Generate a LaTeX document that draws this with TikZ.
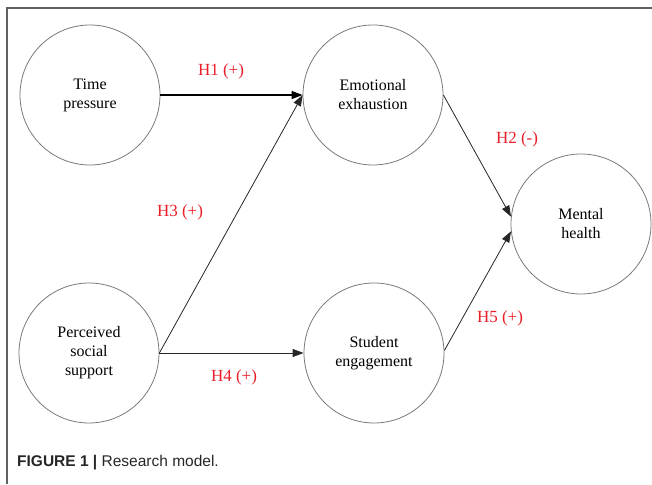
\documentclass[tikz,border=0pt]{standalone}
\usepackage{fontspec}
\setmainfont{Liberation Serif}
\newfontfamily\nodefont{Liberation Serif}
\newfontfamily\capfont{Liberation Sans}
\usetikzlibrary{arrows.meta}
\definecolor{hred}{RGB}{232,30,40}
\definecolor{cgray}{RGB}{120,120,120}
\tikzset{
  construct/.style={circle,draw=cgray,line width=0.8pt,minimum size=140pt,inner sep=0pt,align=center,font=\nodefont\fontsize{16}{19}\selectfont},
  path/.style={draw=black!85,line width=0.8pt,-{Triangle[length=11pt,width=8pt]}},
  hyp/.style={text=hred,font=\nodefont\fontsize{17}{20}\selectfont,inner sep=0pt}
}
\begin{document}
\begin{tikzpicture}[x=1pt,y=1pt]
\useasboundingbox (0,0) rectangle (652,484);
\draw[cgray!80!black,line width=1.3pt] (7,0) -- (7,476) -- (652,476);
\node[construct] (tp) at (90,389) {Time\\pressure};
\node[construct] (ee) at (373,389) {Emotional\\exhaustion};
\node[construct] (mh) at (581,260) {Mental\\health};
\node[construct] (pss) at (89,131) {Perceived\\social\\support};
\node[construct] (se) at (374,131) {Student\\engagement};
\draw[path,line width=1.2pt,draw=black] (tp.east) -- (ee.west);
\draw[path] (pss.east) -- (ee.west);
\draw[path] (pss.east) -- (se.west);
\draw[path] (ee.east) -- (mh.174);
\draw[path] (se.2) -- (mh.186);
\node[hyp] (h1) at (221,413) {H1 (+)};
\node[hyp] (h2) at (517,345) {H2 (-)};
\node[hyp] (h3) at (180,271.5) {H3 (+)};
\node[hyp] (h4) at (234,107) {H4 (+)};
\node[hyp] (h5) at (500,166) {H5 (+)};
\node[anchor=base west,inner sep=0pt,font=\capfont\fontsize{15.5}{18}\selectfont,text=black!85] (cap) at (17,18) {\textbf{FIGURE 1 |} Research model.};
\end{tikzpicture}
\end{document}
